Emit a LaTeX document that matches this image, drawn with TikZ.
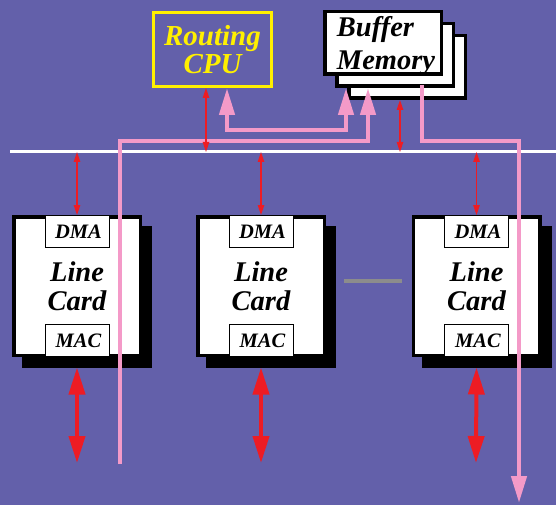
\documentclass[tikz,border=0pt]{standalone}
\usepackage{fontspec}
\setmainfont{Liberation Serif}
\usetikzlibrary{arrows.meta,positioning,calc,shadows}

\definecolor{bgpurple}{RGB}{99,96,170}
\definecolor{linkpink}{RGB}{244,154,200}
\definecolor{sigred}{RGB}{237,28,36}
\definecolor{cpuyellow}{RGB}{255,240,0}
\definecolor{dashgray}{RGB}{140,140,140}

\tikzset{
  cardbox/.style={draw=black, line width=3.5pt, fill=white, inner sep=0pt,
    minimum width=126.5pt, minimum height=138.5pt, align=center,
    font=\fontsize{28.5}{29}\selectfont\bfseries\itshape,
    drop shadow={shadow xshift=10pt, shadow yshift=-10.5pt, opacity=1,
      fill=black, draw=black, line width=3.5pt}},
  tagbox/.style={draw=black, line width=0.9pt, fill=white, inner sep=0pt,
    minimum width=64pt, minimum height=32pt,
    font=\fontsize{20.5}{22}\selectfont\bfseries\itshape},
  cpubox/.style={draw=cpuyellow, line width=3.3pt, inner sep=0pt,
    minimum width=117.7pt, minimum height=73.7pt, align=center, text=cpuyellow,
    font=\fontsize{29}{28.5}\selectfont\bfseries\itshape},
  bufbox/.style={draw=black, line width=3.5pt, fill=white, inner sep=0pt,
    minimum width=116.5pt, minimum height=62.5pt},
  busline/.style={draw=white, line width=3pt},
  thinarr/.style={draw=sigred, line width=1.2pt,
    {Triangle[length=10pt,width=6.5pt]}-{Triangle[length=10pt,width=6.5pt]}},
  thickarr/.style={draw=sigred, line width=4pt,
    {Triangle[length=27pt,width=16pt]}-{Triangle[length=27pt,width=16pt]}},
  pinkline/.style={draw=linkpink, line width=4.5pt},
  pinktip/.tip={Triangle[length=27pt,width=15pt]}
}

\begin{document}
\begin{tikzpicture}[x=1pt,y=-1pt]
    % --- background ---
    \fill[bgpurple] (0,0) rectangle (556,505);
    \useasboundingbox (0,0) rectangle (556,505);

    % --- bus ---
    \coordinate (busL) at (10,152);
    \coordinate (busR) at (556,152);
    \draw[busline] (busL) -- (busR);

    % --- routing CPU and buffer memory ---
    \node[cpubox] (cpu) at (212.5,49.5) {Routing\\CPU};
    \node[bufbox] (buf3) at (407,67) {};
    \node[bufbox] (buf2) at (395,55) {};
    \node[bufbox] (buf) at (383,43) {};
    \node[align=left, inner sep=0pt, font=\fontsize{28.5}{33}\selectfont\bfseries\itshape]
      (buftext) at (386,46) {Buffer\\Memory};

    % --- line cards ---
    \node[cardbox] (card1) at (77,286) {Line\\Card};
    \node[tagbox, anchor=north] (dma1) at (card1.north) {\hspace{3pt}DMA};
    \node[tagbox, anchor=south] (mac1) at (card1.south) {\hspace{3pt}MAC};

    \node[cardbox] (card2) at (261,286) {Line\\Card};
    \node[tagbox, anchor=north] (dma2) at (card2.north) {\hspace{3pt}DMA};
    \node[tagbox, anchor=south] (mac2) at (card2.south) {\hspace{3pt}MAC};

    \node[cardbox] (card3) at (476.5,286) {Line\\Card};
    \node[tagbox, anchor=north] (dma3) at (card3.north) {\hspace{3pt}DMA};
    \node[tagbox, anchor=south] (mac3) at (card3.south) {\hspace{3pt}MAC};

    \draw[dashgray, line width=4pt] ([xshift=18pt,yshift=5pt]card2.east)
      -- ([xshift=-9.5pt,yshift=5pt]card3.west);

    % --- packet path ---
    \coordinate (pinkA) at (120,464);
    \coordinate (pinkbusA) at (120,141);
    \coordinate (pinkC) at (519,503);
    \draw[pinkline, -pinktip] (pinkA) -- (pinkbusA) -| ([xshift=-27pt]buf2.south);
    \draw[pinkline, pinktip-pinktip] ([xshift=14.5pt]cpu.south) -- ++(0,42)
      -| ([xshift=-49pt]buf2.south);
    \draw[pinkline, -pinktip] ([xshift=27pt,yshift=3pt]buf2.south)
      |- (pinkC |- pinkbusA) -- (pinkC);

    % --- control signals ---
    \draw[thinarr] ([xshift=-6.5pt]cpu.south) -- ([xshift=-6.5pt]cpu.south |- busL);
    \draw[thinarr] ([xshift=-7pt]buf3.south) -- ([xshift=-7pt]buf3.south |- busL);
    \draw[thinarr] (busL -| dma1.north) -- (dma1.north);
    \draw[thinarr] (busL -| dma2.north) -- (dma2.north);
    \draw[thinarr] (busL -| dma3.north) -- (dma3.north);

    % --- ports ---
    \coordinate (io1) at (77,463);
    \coordinate (io2) at (261,463);
    \coordinate (io3) at (476,463);
    \draw[thickarr] ([yshift=-10.5pt]card1.south) -- (io1);
    \draw[thickarr] ([yshift=-10.5pt]card2.south) -- (io2);
    \draw[thickarr] ([yshift=-10.5pt]card3.south) -- (io3);
\end{tikzpicture}
\end{document}
